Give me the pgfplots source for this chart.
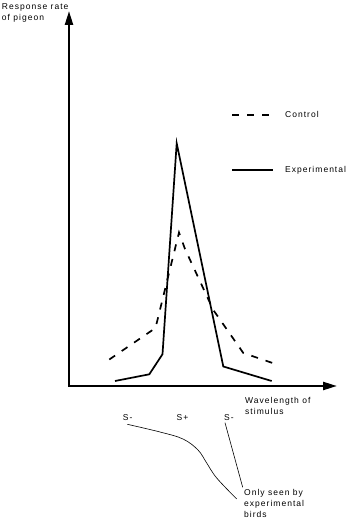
\documentclass[border=0pt]{standalone}
\usepackage{fontspec}
\setmainfont{Liberation Sans}
\newfontfamily\lab[LetterSpace=12]{Liberation Sans}
\usepackage{pgfplots}
\pgfplotsset{compat=1.18}
\usetikzlibrary{arrows.meta}
\newcommand\lf{\lab\fontsize{8.5pt}{11pt}\selectfont}
\begin{document}
\begin{tikzpicture}
\path[use as bounding box] (0pt,0pt) rectangle (352pt,522pt);
\begin{axis}[
  at={(69pt,136pt)}, anchor=south west,
  scale only axis, width=268pt, height=375pt,
  xmin=0, xmax=268, ymin=0, ymax=375,
  axis lines=left,
  axis line style={line width=2.3pt, line cap=rect, -{Triangle[length=14pt,width=8pt]}},
  xtick=\empty, ytick=\empty,
  clip=false,
  legend image code/.code={\draw[#1, line width=2pt] (0pt,0pt) -- (41pt,0pt);},
  legend cell align=left,
  legend style={at={(axis cs:162,277)}, anchor=north west, draw=none, fill=none,
    inner sep=0pt, font=\lf, row sep=43pt, column sep=9pt},
]
\addplot[black, line width=1.7pt, dash pattern=on 7pt off 8pt] coordinates {
  (40.3,26.5) (86.5,58) (110,153.5) (116,137) (144.3,76) (174.3,33) (206.5,22)};
\addlegendentry{Control}
\addplot[black, line width=1.7pt] coordinates {
  (46,5) (80.3,11.7) (93.5,31.8) (107.7,242.7) (154.3,19.5) (202.7,5)};
\addlegendentry{Experimental}
\end{axis}
\node[anchor=base west, inner sep=0pt, font=\lf] at (1.7pt,512.5pt) {Response rate};
\node[anchor=base west, inner sep=0pt, font=\lf] at (1.7pt,501.5pt) {of pigeon};
\node[anchor=base west, inner sep=0pt, font=\lf] at (245pt,118.5pt) {Wavelength of};
\node[anchor=base west, inner sep=0pt, font=\lf] at (245pt,107.7pt) {stimulus};
\node[anchor=base west, inner sep=0pt, font=\lf] at (122.7pt,101pt) {S-};
\node[anchor=base west, inner sep=0pt, font=\lf] at (176.5pt,101pt) {S+};
\node[anchor=base west, inner sep=0pt, font=\lf] at (224pt,101pt) {S-};
\node[anchor=base west, inner sep=0pt, font=\lf] at (244pt,27pt) {Only seen by};
\node[anchor=base west, inner sep=0pt, font=\lf] at (244pt,16pt) {experimental};
\node[anchor=base west, inner sep=0pt, font=\lf] at (244pt,4.7pt) {birds};
\draw[line width=0.6pt] plot[smooth, tension=0.6] coordinates {(127.3pt,97.7pt) (160pt,90pt) (183pt,83pt) (198pt,72pt) (206.7pt,59pt) (216.7pt,44pt) (236.7pt,23pt)};
\draw[line width=0.6pt] (225pt,99.3pt) -- (242.7pt,34.7pt);
\end{tikzpicture}
\end{document}
